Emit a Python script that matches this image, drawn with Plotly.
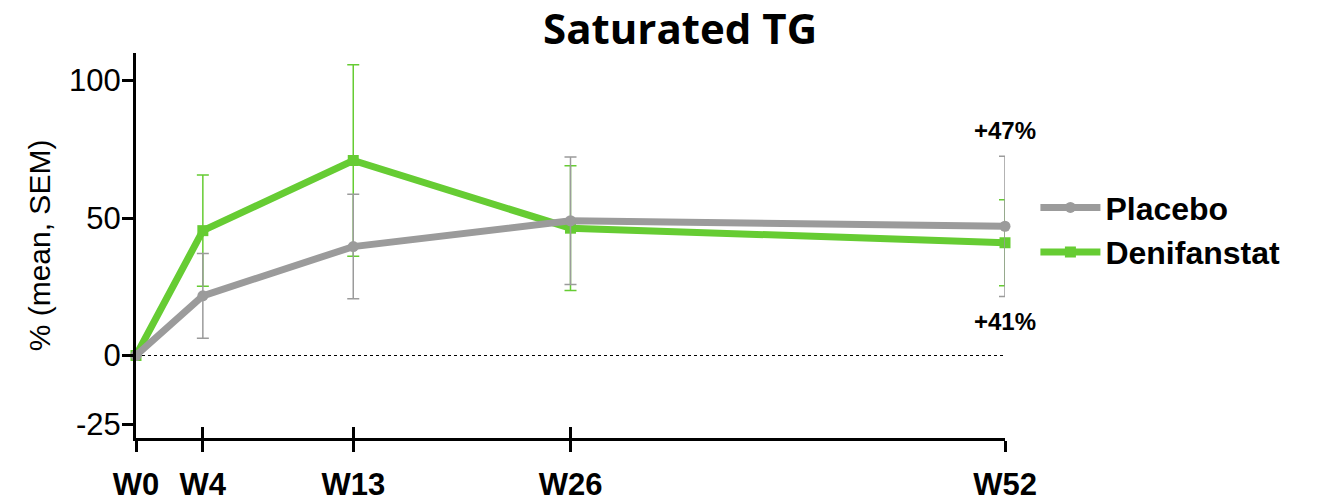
import plotly.graph_objects as go

weeks = [0, 4, 13, 26, 52]
week_labels = ["W0", "W4", "W13", "W26", "W52"]
placebo_mean = [0, 21.7, 39.6, 49.0, 47.0]
placebo_sem = [0, 15.4, 19.0, 23.2, 25.5]
deni_mean = [0, 45.4, 70.9, 46.3, 41.0]
deni_sem = [0, 20.2, 34.8, 22.7, 15.6]
y_ticks = [-25, 0, 50, 100]
y_tick_labels = ["-25", "0", "50", "100"]

GRAY = "#9B9B9B"
GREEN = "#66CC33"
ARIAL = "Liberation Sans, Arial, sans-serif"

fig = go.Figure()

fig.add_trace(go.Scatter(
    x=weeks, y=deni_mean, name="Denifanstat", mode="lines+markers",
    line=dict(color=GREEN, width=7),
    marker=dict(symbol="square", size=11, color=GREEN),
    error_y=dict(type="data", array=deni_sem, visible=True, color=GREEN,
                 thickness=1.5, width=6),
    cliponaxis=False, legendrank=2,
))
fig.add_trace(go.Scatter(
    x=weeks, y=placebo_mean, name="Placebo", mode="lines+markers",
    line=dict(color=GRAY, width=7),
    marker=dict(symbol="circle", size=11, color=GRAY),
    error_y=dict(type="data", array=placebo_sem, visible=True, color=GRAY,
                 thickness=1.5, width=6),
    cliponaxis=False, legendrank=1,
))
# empty trace so the overlaid axis (inner half of crossing ticks) is drawn
fig.add_trace(go.Scatter(x=weeks, y=[None] * len(weeks), xaxis="x2", yaxis="y",
                         showlegend=False, hoverinfo="skip", mode="lines"))

# dotted zero reference line
fig.add_shape(type="line", xref="x", yref="y", x0=weeks[0], x1=weeks[-1], y0=0, y1=0,
              line=dict(color="black", width=1.2, dash="dot"), layer="below")

# end labels
fig.add_annotation(x=weeks[-1], y=placebo_mean[-1] + placebo_sem[-1], text=f"<b>+{placebo_mean[-1]:.0f}%</b>",
                   showarrow=False, yanchor="bottom", yshift=10,
                   font=dict(family=ARIAL, size=24, color="black"))
fig.add_annotation(x=weeks[-1], y=placebo_mean[-1] - placebo_sem[-1], text=f"<b>+{deni_mean[-1]:.0f}%</b>",
                   showarrow=False, yanchor="top", yshift=-10,
                   font=dict(family=ARIAL, size=24, color="black"))

# title
fig.add_annotation(x=0.626, y=1.0, xref="paper", yref="paper", yanchor="bottom", yshift=-4,
                   text="<b>Saturated TG</b>", showarrow=False, borderpad=0,
                   font=dict(family="Open Sans, sans-serif", size=42, color="black"))

# page body has an 8px margin, so the figure is drawn 8px smaller and offset
fig.update_layout(
    width=1319, height=495,
    margin=dict(l=128, r=322, t=45, b=65),
    paper_bgcolor="white", plot_bgcolor="white",
    showlegend=True,
    legend=dict(x=1.035, xanchor="left", y=0.54, yanchor="middle",
                font=dict(family=ARIAL, size=32, color="black", weight="bold"),
                bgcolor="rgba(0,0,0,0)", itemwidth=60, tracegroupgap=0),
    xaxis=dict(range=[0, 52], tickvals=weeks, ticktext=week_labels, automargin=False,
               showgrid=False, zeroline=False, showline=True, linecolor="black", linewidth=3,
               ticks="outside", ticklen=11, tickwidth=3, tickcolor="black",
               ticklabelstandoff=6,
               tickfont=dict(family=ARIAL, size=31, color="black", weight="bold")),
    xaxis2=dict(range=[0, 52], overlaying="x", matches="x", side="bottom", anchor="y",
                tickvals=weeks, showticklabels=False, showgrid=False, zeroline=False,
                automargin=False,
                showline=False, ticks="inside", ticklen=11, tickwidth=3, tickcolor="black"),
    yaxis=dict(range=[-30, 110], tickvals=y_ticks, ticktext=y_tick_labels, automargin=False,
               showgrid=False, zeroline=False, showline=True, linecolor="black", linewidth=3,
               ticks="outside", ticklen=11, tickwidth=3, tickcolor="black",
               ticklabelstandoff=-5,
               tickfont=dict(family=ARIAL, size=31, color="black"),
               title=dict(text="% (mean, SEM)", standoff=10,
                          font=dict(family=ARIAL, size=30, color="black"))),
)

fig.write_html("out.html")
